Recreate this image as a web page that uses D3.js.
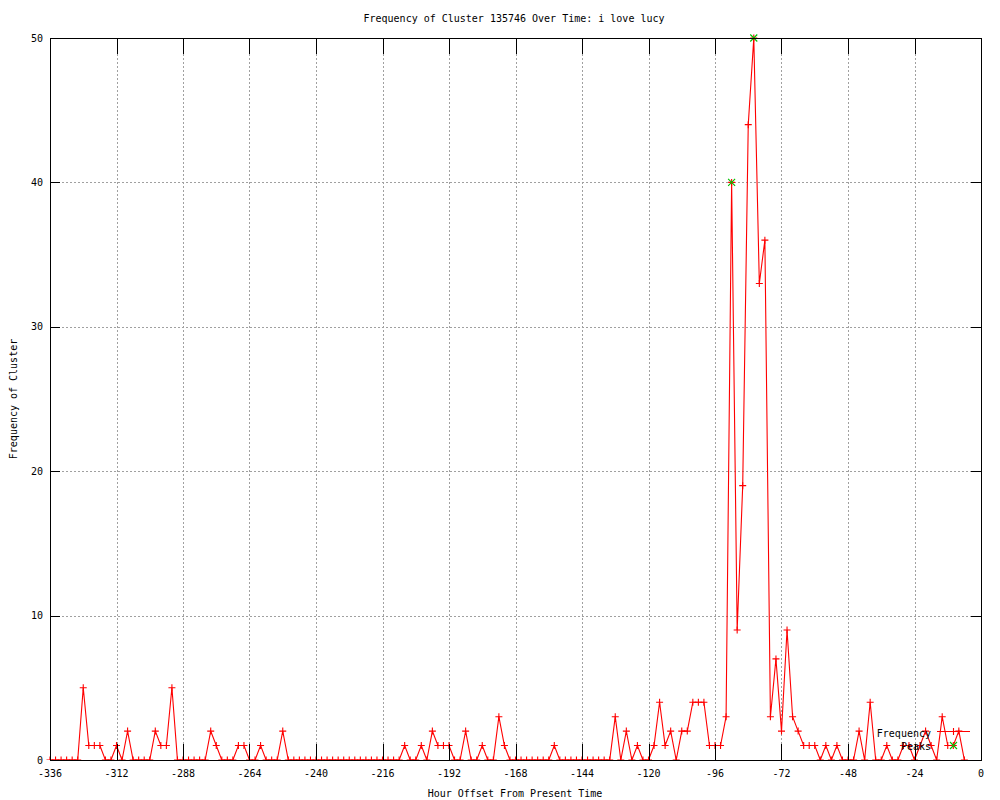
<!DOCTYPE html>
<html>
<head>
<meta charset="utf-8">
<script src="https://cdn.jsdelivr.net/npm/d3@7"></script>
<style>
  html, body { margin: 0; padding: 0; background: #fff; }
  svg { display: block; }
  text { font-family: "DejaVu Sans Mono", "Liberation Mono", monospace; font-size: 10px; fill: #000; }
</style>
</head>
<body>
<svg id="chart" width="1000" height="800"></svg>
<script>
// ---- data ----
const titleText = "Frequency of Cluster 135746 Over Time: i love lucy";
const xLabel = "Hour Offset From Present Time";
const yLabel = "Frequency of Cluster";

const hours = [
  -336,-334,-332,-330,-328,-326,-324,-322,-320,-318,-316,-314,
  -312,-310,-308,-306,-304,-302,-300,-298,-296,-294,-292,-290,
  -288,-286,-284,-282,-280,-278,-276,-274,-272,-270,-268,-266,
  -264,-262,-260,-258,-256,-254,-252,-250,-248,-246,-244,-242,
  -240,-238,-236,-234,-232,-230,-228,-226,-224,-222,-220,-218,
  -216,-214,-212,-210,-208,-206,-204,-202,-200,-198,-196,-194,
  -192,-190,-188,-186,-184,-182,-180,-178,-176,-174,-172,-170,
  -168,-166,-164,-162,-160,-158,-156,-154,-152,-150,-148,-146,
  -144,-142,-140,-138,-136,-134,-132,-130,-128,-126,-124,-122,
  -120,-118,-116,-114,-112,-110,-108,-106,-104,-102,-100,-98,
  -96,-94,-92,-90,-88,-86,-84,-82,-80,-78,-76,-74,
  -72,-70,-68,-66,-64,-62,-60,-58,-56,-54,-52,-50,
  -48,-46,-44,-42,-40,-38,-36,-34,-32,-30,-28,-26,
  -24,-22,-20,-18,-16,-14,-12,-10,-8,-6
];
const frequency = [
  0,0,0,0,0,0,5,1,1,1,0,0,
  1,0,2,0,0,0,0,2,1,1,5,0,
  0,0,0,0,0,2,1,0,0,0,1,1,
  0,0,1,0,0,0,2,0,0,0,0,0,
  0,0,0,0,0,0,0,0,0,0,0,0,
  0,0,0,0,1,0,0,1,0,2,1,1,
  1,0,0,2,0,0,1,0,0,3,1,0,
  0,0,0,0,0,0,0,1,0,0,0,0,
  0,0,0,0,0,0,3,0,2,0,1,0,
  0,1,4,1,2,0,2,2,4,4,4,1,
  1,1,3,40,9,19,44,50,33,36,3,7,
  2,9,3,2,1,1,1,0,1,0,1,0,
  0,0,2,0,4,0,0,1,0,0,1,1,
  0,1,2,1,0,3,1,1,2,0
];
const peakHours = [-90, -82];
const peakValues = [40, 50];

const xTicks = [-336,-312,-288,-264,-240,-216,-192,-168,-144,-120,-96,-72,-48,-24,0];
const yTicks = [0,10,20,30,40,50];
const legendNames = ["Frequency", "Peaks"];

// ---- layout ----
const L = 50, R = 981, T = 38, B = 760;
const svg = d3.select("#chart");
svg.append("rect").attr("width",1000).attr("height",800).attr("fill","#fff");

const x = d3.scaleLinear().domain([-336, 0]).range([L, R]);
const y = d3.scaleLinear().domain([0, 50]).range([B, T]);

// grid
const grid = svg.append("g").attr("stroke","#a0a0a0").attr("stroke-width",1).attr("stroke-dasharray","2,2").attr("shape-rendering","crispEdges");
grid.selectAll("line.vx").data(xTicks.filter(t => t > -336 && t < 0)).enter().append("line")
  .attr("x1", d => Math.round(x(d))+0.5).attr("x2", d => Math.round(x(d))+0.5)
  .attr("y1", T).attr("y2", B);
grid.selectAll("line.hy").data(yTicks.filter(t => t > 0 && t < 50)).enter().append("line")
  .attr("x1", L).attr("x2", R)
  .attr("y1", d => Math.round(y(d))+0.5).attr("y2", d => Math.round(y(d))+0.5);

// clip (points/lines do not extend below the x axis)
svg.append("clipPath").attr("id","clipB").append("rect").attr("x",0).attr("y",0).attr("width",1000).attr("height",B);

const series = hours.map((h,i) => ({h, v: frequency[i]}));
const line = d3.line().x(d => x(d.h)).y(d => y(d.v));
const dataG = svg.append("g").attr("clip-path","url(#clipB)");
dataG.append("path").datum(series).attr("d", line)
  .attr("fill","none").attr("stroke","#ff0000").attr("stroke-width",1.1);

const s = 3.5;
const plusPath = (cx, cy) => `M${cx-s},${cy}H${cx+s}M${cx},${cy-s}V${cy+s}`;
const crossPath = (cx, cy) => `M${cx-s},${cy-s}L${cx+s},${cy+s}M${cx-s},${cy+s}L${cx+s},${cy-s}`;

dataG.selectAll("path.pt").data(series).enter().append("path")
  .attr("class","pt")
  .attr("d", d => plusPath(x(d.h), y(d.v)))
  .attr("stroke","#ff0000").attr("stroke-width",1.1).attr("fill","none");

const peaks = peakHours.map((h,i) => ({h, v: peakValues[i]}));
svg.selectAll("path.pk").data(peaks).enter().append("path")
  .attr("class","pk")
  .attr("d", d => crossPath(x(d.h), y(d.v)))
  .attr("stroke","#00c000").attr("stroke-width",1.1).attr("fill","none");

// border
svg.append("rect").attr("x",L+0.5).attr("y",T+0.5).attr("width",R-L).attr("height",B-T)
  .attr("fill","none").attr("stroke","#000").attr("stroke-width",1).attr("shape-rendering","crispEdges");

// ticks (mirrored, inward)
const tk = svg.append("g").attr("stroke","#000").attr("stroke-width",1).attr("shape-rendering","crispEdges");
xTicks.forEach(t => {
  const px = Math.round(x(t))+0.5;
  tk.append("line").attr("x1",px).attr("x2",px).attr("y1",B).attr("y2",B-16);
  tk.append("line").attr("x1",px).attr("x2",px).attr("y1",T).attr("y2",T+16);
});
yTicks.forEach(t => {
  const py = Math.round(y(t))+0.5;
  tk.append("line").attr("x1",L).attr("x2",L+10).attr("y1",py).attr("y2",py);
  tk.append("line").attr("x1",R).attr("x2",R-10).attr("y1",py).attr("y2",py);
});

// tick labels
svg.selectAll("text.xt").data(xTicks).enter().append("text")
  .attr("x", d => x(d)).attr("y", 777).attr("text-anchor","middle")
  .text(d => d);
svg.selectAll("text.yt").data(yTicks).enter().append("text")
  .attr("x", 43).attr("y", d => y(d)+3.5).attr("text-anchor","end")
  .text(d => d);

// titles
svg.append("text").attr("x",514).attr("y",22).attr("text-anchor","middle").text(titleText);
svg.append("text").attr("x",515).attr("y",797).attr("text-anchor","middle").text(xLabel);
svg.append("text").attr("transform","translate(17,399) rotate(-90)").attr("text-anchor","middle").text(yLabel);

// legend
const lg = svg.append("g");
lg.append("text").attr("x",931).attr("y",736.5).attr("text-anchor","end").text(legendNames[0]);
lg.append("line").attr("x1",937).attr("x2",970).attr("y1",731.5).attr("y2",731.5)
  .attr("stroke","#ff0000").attr("stroke-width",1).attr("shape-rendering","crispEdges");
lg.append("path").attr("d", plusPath(953.5, 731.5)).attr("stroke","#ff0000").attr("stroke-width",1.1).attr("fill","none");
lg.append("text").attr("x",931).attr("y",749.5).attr("text-anchor","end").text(legendNames[1]);
lg.append("path").attr("d", crossPath(953.5, 745.5)).attr("stroke","#00c000").attr("stroke-width",1.1).attr("fill","none");
</script>
</body>
</html>
